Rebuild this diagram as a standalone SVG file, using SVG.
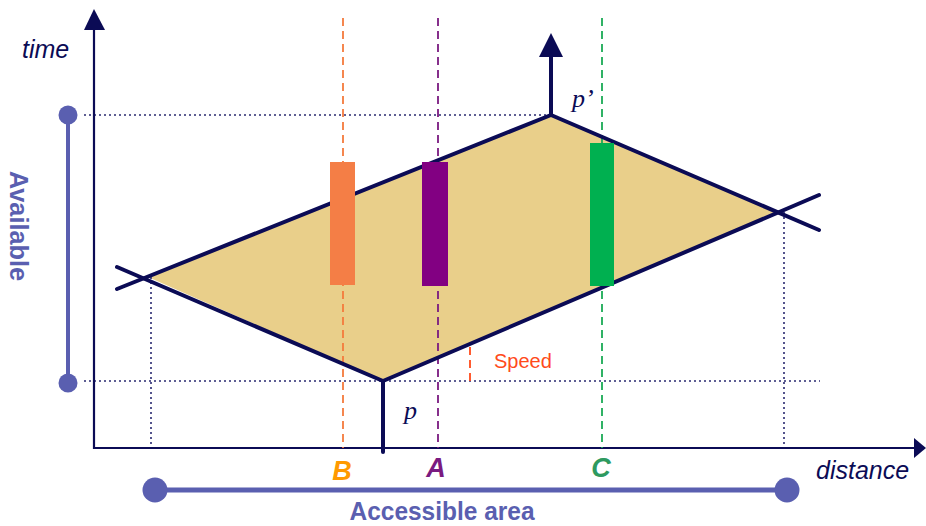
<svg xmlns="http://www.w3.org/2000/svg" width="926" height="526" viewBox="0 0 926 526">
<style>
.ax{stroke:#0b0b55;fill:none}
.dot{stroke:#2a2a70;stroke-width:1.6;stroke-dasharray:2,3;fill:none}
.edge{stroke:#0b0b55;stroke-width:4;fill:none;stroke-linecap:round}
.dash{stroke-width:1.8;stroke-dasharray:8,5;fill:none}
.it{font-family:"Liberation Sans",Arial,sans-serif;font-style:italic;fill:#0b0b55}
.lbl{font-family:"Liberation Sans",Arial,sans-serif;font-weight:bold;font-style:italic;font-size:27px}
.blue{font-family:"Liberation Sans",Arial,sans-serif;font-weight:bold;fill:#5a5fb0;font-size:26px}
</style>
<rect width="926" height="526" fill="#fff"/>
<g id="region">
<polygon points="148,277 551,115 778,212 383,381" fill="#e9cf8a"/>
</g>
<g id="guides">
<line class="dot" x1="84" y1="115" x2="551" y2="115"/>
<line class="dot" x1="84" y1="381" x2="820" y2="381"/>
<line class="dot" x1="151" y1="277" x2="151" y2="447"/>
<line class="dot" x1="784" y1="212" x2="784" y2="447"/>
</g>
<g id="axes">
<line class="ax" stroke-width="2.2" x1="94" y1="28" x2="94" y2="449"/>
<polygon points="94,9 84,30 105,30" fill="#0b0b55"/>
<line class="ax" stroke-width="2.2" x1="93" y1="448" x2="918" y2="448"/>
<polygon points="926,448 914,438 914,458" fill="#0b0b55"/>
</g>
<g id="connectors">
<line class="dash" stroke="#f47a3c" x1="343" y1="18" x2="343" y2="448"/>
<line class="dash" stroke="#7a1a80" x1="438" y1="18" x2="438" y2="448"/>
<line class="dash" stroke="#1aaa55" x1="602" y1="18" x2="602" y2="448"/>
<line class="edge" x1="117" y1="267" x2="383" y2="381"/>
<line class="edge" x1="117" y1="289" x2="551" y2="115"/>
<line class="edge" x1="383" y1="381" x2="819" y2="195"/>
<line class="edge" x1="551" y1="115" x2="819" y2="230"/>
<line class="edge" x1="383" y1="381" x2="383" y2="452"/>
<line class="edge" x1="551" y1="115" x2="551" y2="54"/>
<polygon points="551,33 539,57 563,57" fill="#0b0b55"/>
<line stroke="#ff4a1a" stroke-width="1.8" stroke-dasharray="8,5" x1="470" y1="347" x2="470" y2="382"/>
</g>
<g id="bars">
<rect id="barB" x="330" y="162" width="25" height="123" fill="#f47e46"/>
<rect id="barA" x="422" y="162" width="26" height="124" fill="#820082"/>
<rect id="barC" x="590" y="143" width="24" height="143" fill="#00b050"/>
</g>
<g id="available">
<line stroke="#5a5fb0" stroke-width="4" x1="68" y1="115" x2="68" y2="383"/>
<circle cx="68" cy="115" r="9.5" fill="#5a5fb0"/>
<circle cx="68" cy="383" r="9.5" fill="#5a5fb0"/>
<text class="blue" transform="translate(10,226) rotate(90)" text-anchor="middle" textLength="110" lengthAdjust="spacingAndGlyphs">Available</text>
</g>
<g id="accessible">
<line stroke="#5a5fb0" stroke-width="5" x1="155" y1="490" x2="787" y2="490"/>
<circle cx="155" cy="490" r="12.5" fill="#5a5fb0"/>
<circle cx="787" cy="490" r="12.5" fill="#5a5fb0"/>
<text class="blue" x="442" y="520" font-size="25" text-anchor="middle" textLength="185" lengthAdjust="spacingAndGlyphs">Accessible area</text>
</g>
<g id="labels">
<text class="it" x="22" y="58" font-size="25">time</text>
<text class="it" x="816" y="479" font-size="25">distance</text>
<text x="404" y="419" font-family="Liberation Serif,serif" font-style="italic" font-size="26" fill="#0b0b55">p</text>
<text x="572" y="107" font-family="Liberation Serif,serif" font-style="italic" font-size="26" fill="#0b0b55">p’</text>
<text x="494" y="368" font-family="Liberation Sans,Arial,sans-serif" font-size="20" fill="#ff4a1a">Speed</text>
<text class="lbl" x="342" y="480" text-anchor="middle" fill="#ff9a00">B</text>
<text class="lbl" x="436" y="477" text-anchor="middle" fill="#7a1a80">A</text>
<text class="lbl" x="601" y="477" text-anchor="middle" fill="#2e9a60">C</text>
</g>
</svg>
